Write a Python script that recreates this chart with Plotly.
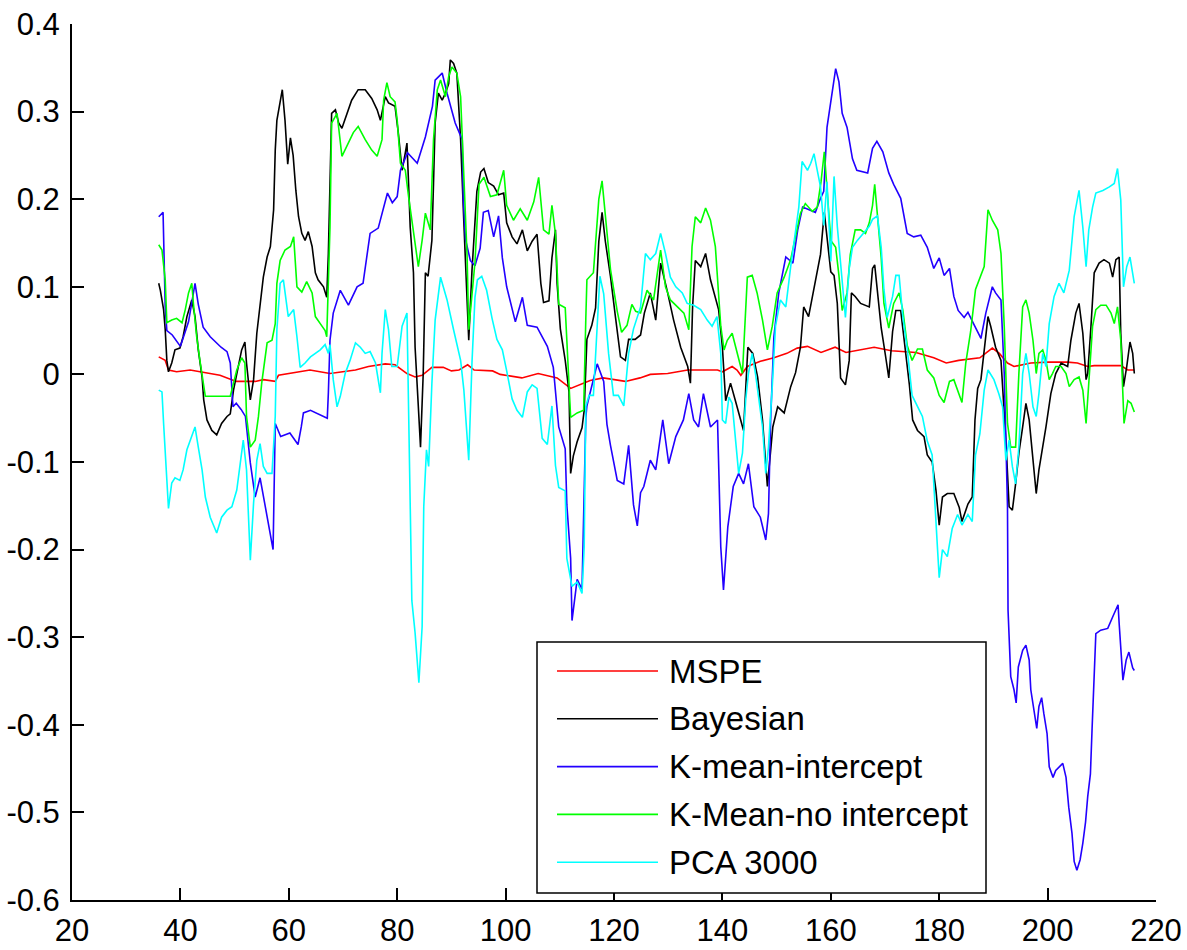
import plotly.graph_objects as go

# ---- data: (x, value) vertices for each series ----
mspe = [(36, 0.02), (37.2, 0.016), (37.8, 0.005), (39.3, 0.003), (41.8, 0.005), (43.6, 0.003),
        (47.3, -0.001), (50.3, -0.008), (53.8, -0.008), (55.3, -0.006), (57.5, -0.008), (58.1, -0.001),
        (62.1, 0.003), (63.9, 0.005), (67.6, 0.001), (70.1, 0.003), (72.3, 0.005), (74.7, 0.009),
        (77.8, 0.012), (79.6, 0.011), (81.8, 0.001), (83.3, -0.003), (84.6, -0.001), (86.4, 0.008),
        (88.5, 0.008), (90, 0.004), (91.4, 0.005), (93, 0.011), (94.2, 0.005), (97.6, 0.004),
        (99, 0.0), (103, -0.004), (106, 0.001), (109.5, -0.004), (112, -0.016), (115.6, -0.007),
        (118, -0.004), (122.1, -0.008), (124.8, -0.004), (126.7, 0.0), (129.9, 0.001), (133.6, 0.005),
        (139.1, 0.005), (140, 0.003), (141.8, 0.009), (142.7, 0.005), (143.4, -0.001), (144.6, 0.009),
        (147, 0.015), (149.5, 0.019), (151.9, 0.024), (153.8, 0.03), (155.7, 0.032), (158.2, 0.025),
        (160.8, 0.031), (162.8, 0.025), (168, 0.031), (171.2, 0.027), (175.7, 0.025), (179, 0.019),
        (181.3, 0.013), (183.6, 0.016), (187.5, 0.019), (189.8, 0.03), (191.1, 0.024), (192.6, 0.013),
        (193.8, 0.009), (196.9, 0.013), (200, 0.014), (203.7, 0.014), (205.5, 0.013), (207.4, 0.009),
        (208.6, 0.01), (213.5, 0.01), (214.8, 0.005), (216, 0.005)]

bayesian = [(36, 0.104), (36.3, 0.096), (36.9, 0.074), (37.2, 0.051), (37.5, 0.016), (37.8, 0.003),
            (38.4, 0.013), (39.0, 0.028), (39.9, 0.03), (40.5, 0.043), (41.2, 0.066), (41.8, 0.077),
            (42.1, 0.085), (42.7, 0.066), (43.3, 0.028), (44.0, -0.003), (44.3, -0.029), (44.9, -0.052),
            (45.8, -0.064), (46.7, -0.069), (47.6, -0.056), (48.6, -0.048), (49.2, -0.045), (49.8, -0.018),
            (50.7, 0.009), (51.3, 0.028), (51.9, 0.037), (52.2, 0.013), (52.9, -0.029), (53.5, -0.006),
            (54.1, 0.047), (54.7, 0.077), (55.3, 0.111), (56.0, 0.134), (56.6, 0.146), (57.2, 0.188),
            (57.5, 0.256), (57.8, 0.29), (58.3, 0.31), (58.8, 0.325), (59.3, 0.29), (59.8, 0.24),
            (60.3, 0.27), (60.8, 0.25), (61.3, 0.21), (61.8, 0.18), (62.4, 0.161), (63.0, 0.153),
            (63.6, 0.163), (64.3, 0.146), (64.9, 0.116), (65.4, 0.108), (66.4, 0.1), (67.0, 0.088),
            (67.3, 0.138), (67.6, 0.218), (67.9, 0.298), (68.6, 0.302), (69.2, 0.287), (69.8, 0.281),
            (70.7, 0.298), (71.6, 0.313), (72.8, 0.325), (74.1, 0.325), (75.3, 0.315), (76.3, 0.302),
            (76.9, 0.29), (77.8, 0.317), (78.4, 0.31), (79.6, 0.306), (80.2, 0.276), (80.9, 0.233),
            (81.5, 0.253), (81.8, 0.264), (82.1, 0.218), (82.4, 0.168), (83.0, 0.116), (83.3, 0.031),
            (83.9, -0.037), (84.3, -0.083), (84.8, 0.001), (85.2, 0.116), (85.7, 0.112), (86.4, 0.153),
            (86.7, 0.218), (87.0, 0.287), (87.6, 0.321), (88.3, 0.313), (88.9, 0.321), (89.5, 0.332),
            (89.8, 0.359), (90.4, 0.355), (91.0, 0.344), (91.7, 0.268), (92.3, 0.173), (92.9, 0.093),
            (93.2, 0.039), (93.8, 0.119), (94.7, 0.209), (95.4, 0.231), (96.0, 0.235), (96.8, 0.219),
            (97.8, 0.215), (98.7, 0.205), (99.65, 0.207), (100.2, 0.173), (101.2, 0.157), (102.1, 0.149),
            (103.1, 0.165), (104.0, 0.141), (104.9, 0.152), (105.8, 0.16), (106.5, 0.104), (107.0, 0.082),
            (108.0, 0.084), (108.55, 0.133), (109.2, 0.165), (109.5, 0.104), (110.1, 0.052), (111.0, 0.016),
            (111.7, -0.02), (112.0, -0.113), (112.5, -0.093), (113.2, -0.077), (114.1, -0.061),
            (114.5, -0.041), (115.0, 0.04), (115.9, 0.056), (116.6, 0.076), (117.2, 0.152), (117.8, 0.185),
            (118.4, 0.152), (119.35, 0.112), (120.3, 0.064), (121.2, 0.02), (122.1, 0.016), (122.7, 0.04),
            (123.9, 0.04), (124.9, 0.045), (125.6, 0.07), (126.7, 0.093), (127.7, 0.062), (128.6, 0.127),
            (129.9, 0.093), (131.0, 0.062), (132.3, 0.031), (133.6, 0.009), (134.1, -0.01), (134.5, 0.077),
            (135.0, 0.13), (136.0, 0.123), (136.9, 0.138), (137.8, 0.108), (139.3, 0.074), (140.0, 0.031),
            (140.6, -0.03), (141.5, -0.01), (142.4, -0.03), (143.4, -0.052), (143.9, -0.064), (144.7, 0.031),
            (145.6, 0.024), (146.5, -0.003), (147.4, -0.052), (148.3, -0.128), (149.3, -0.06),
            (150.2, -0.037), (151.4, -0.044), (152.6, -0.014), (153.5, 0.002), (154.4, 0.031), (155.0, 0.077),
            (155.9, 0.066), (156.9, 0.1), (157.5, 0.12), (158.1, 0.137), (158.8, 0.185), (159.3, 0.157),
            (160.0, 0.117), (160.6, 0.113), (161.2, 0.081), (161.8, -0.004), (162.7, -0.012), (163.4, 0.016),
            (163.8, 0.093), (164.5, 0.089), (165.5, 0.081), (167.1, 0.077), (167.7, 0.121), (168.1, 0.125),
            (168.6, 0.097), (169.3, 0.053), (170.1, 0.021), (170.7, -0.004), (171.4, 0.049), (172.0, 0.073),
            (172.9, 0.073), (173.5, 0.041), (174.5, -0.012), (175.1, -0.052), (176.0, -0.064),
            (177.2, -0.071), (177.8, -0.092), (178.7, -0.1), (179.4, -0.132), (180.0, -0.172),
            (180.6, -0.14), (181.5, -0.136), (182.7, -0.136), (183.7, -0.152), (184.2, -0.168),
            (185.3, -0.148), (186.1, -0.14), (186.6, -0.052), (187.1, -0.016), (187.7, -0.006),
            (188.3, 0.028), (189.0, 0.066), (189.5, 0.055), (190.4, 0.031), (191.4, 0.016), (192.0, -0.037),
            (192.3, -0.075), (192.9, -0.151), (193.5, -0.155), (194.1, -0.125), (194.7, -0.09),
            (195.4, -0.06), (196.0, -0.033), (196.6, -0.052), (197.3, -0.098), (197.9, -0.136),
            (198.4, -0.109), (199.1, -0.083), (199.7, -0.06), (200.6, -0.022), (201.5, 0.001),
            (202.5, 0.013), (203.7, 0.009), (204.3, 0.039), (205.2, 0.07), (205.8, 0.081), (206.5, 0.047),
            (207.1, -0.006), (207.4, 0.001), (208.0, 0.055), (208.6, 0.116), (209.5, 0.127), (210.4, 0.131),
            (211.4, 0.127), (212.0, 0.111), (212.6, 0.131), (213.2, 0.134), (213.5, 0.047), (214.0, -0.014),
            (214.6, 0.009), (215.2, 0.037), (215.7, 0.024), (216.0, 0.001)]

kmean_intercept = [(36, 0.18), (36.8, 0.185), (37.2, 0.077), (37.5, 0.05), (38.5, 0.045), (40.0, 0.032),
                   (41.5, 0.06), (42.7, 0.104), (43.3, 0.08), (44.2, 0.054), (45.5, 0.043), (47.5, 0.031),
                   (48.6, 0.026), (49.2, 0.013), (49.7, -0.037), (50.3, -0.033), (51.2, -0.04),
                   (52.0, -0.048), (52.9, -0.101), (53.8, -0.14), (54.7, -0.118), (56.0, -0.163),
                   (57.1, -0.2), (57.5, -0.056), (58.5, -0.071), (60.2, -0.067), (61.7, -0.08),
                   (62.3, -0.06), (62.7, -0.044), (64.0, -0.041), (67.1, -0.05), (67.3, -0.021),
                   (67.6, 0.039), (68.2, 0.07), (69.5, 0.096), (71.0, 0.079), (72.6, 0.1), (73.7, 0.104),
                   (75.0, 0.161), (76.5, 0.167), (78.2, 0.207), (79.1, 0.196), (80.0, 0.203), (80.6, 0.233),
                   (81.9, 0.253), (83.7, 0.241), (85.2, 0.271), (86.5, 0.306), (87.0, 0.336), (88.3, 0.344),
                   (89.2, 0.321), (90.7, 0.287), (92.0, 0.268), (92.2, 0.2), (92.6, 0.154), (93.5, 0.13),
                   (94.35, 0.124), (95.3, 0.144), (95.9, 0.185), (96.8, 0.187), (97.8, 0.157), (98.7, 0.181),
                   (99.4, 0.133), (100.2, 0.1), (101.8, 0.06), (103.1, 0.088), (104.0, 0.056), (105.8, 0.054),
                   (107.7, 0.032), (108.8, 0.008), (109.8, -0.06), (111.0, -0.085), (111.3, -0.149),
                   (112.0, -0.21), (112.25, -0.281), (113.2, -0.234), (114.1, -0.245), (114.8, -0.049),
                   (115.0, -0.036), (116.9, 0.012), (118.1, -0.008), (118.7, -0.057), (119.35, -0.081),
                   (120.6, -0.121), (121.8, -0.125), (122.7, -0.081), (123.6, -0.149), (124.3, -0.173),
                   (124.9, -0.135), (125.5, -0.128), (126.7, -0.098), (127.7, -0.109), (129.0, -0.052),
                   (130.1, -0.102), (131.4, -0.071), (132.8, -0.052), (133.8, -0.022), (134.7, -0.052),
                   (135.6, -0.06), (136.5, -0.022), (137.8, -0.06), (139.1, -0.052), (139.7, -0.197),
                   (140.2, -0.246), (141.0, -0.174), (142.0, -0.128), (143.0, -0.113), (143.9, -0.125),
                   (144.8, -0.102), (145.8, -0.151), (147.0, -0.163), (148.0, -0.189), (148.5, -0.159),
                   (148.9, -0.052), (149.5, 0.043), (150.4, 0.093), (151.7, 0.134), (153.0, 0.127),
                   (153.9, 0.165), (154.8, 0.191), (155.9, 0.188), (157.15, 0.185), (158.1, 0.201),
                   (158.7, 0.209), (159.3, 0.282), (160.0, 0.314), (160.9, 0.349), (161.5, 0.334),
                   (162.1, 0.298), (163.0, 0.282), (164.0, 0.246), (164.8, 0.233), (166.8, 0.23),
                   (167.7, 0.258), (168.5, 0.266), (169.6, 0.254), (170.7, 0.23), (171.6, 0.217),
                   (172.9, 0.201), (174.1, 0.161), (175.3, 0.157), (176.6, 0.159), (177.8, 0.145),
                   (179.0, 0.121), (180.0, 0.133), (180.9, 0.113), (181.9, 0.121), (182.7, 0.089),
                   (183.5, 0.073), (184.6, 0.065), (185.3, 0.071), (186.4, 0.057), (187.7, 0.041),
                   (188.6, 0.07), (189.8, 0.1), (190.4, 0.093), (191.4, 0.085), (192.0, 0.001),
                   (192.3, -0.075), (192.6, -0.151), (192.7, -0.269), (193.2, -0.345), (193.8, -0.36),
                   (194.2, -0.375), (194.6, -0.334), (195.4, -0.315), (196.0, -0.309), (196.6, -0.326),
                   (196.9, -0.36), (197.5, -0.383), (198.0, -0.404), (198.4, -0.379), (198.9, -0.369),
                   (199.3, -0.387), (199.9, -0.41), (200.3, -0.448), (201.0, -0.46), (201.5, -0.452),
                   (202.8, -0.444), (203.4, -0.46), (203.9, -0.494), (204.5, -0.524), (204.9, -0.556),
                   (205.4, -0.566), (206.0, -0.554), (206.5, -0.535), (207.0, -0.511), (207.4, -0.482),
                   (207.9, -0.456), (208.2, -0.406), (208.6, -0.334), (208.9, -0.296), (209.8, -0.292),
                   (211.1, -0.29), (212.0, -0.277), (213.0, -0.263), (213.2, -0.284), (213.9, -0.349),
                   (214.5, -0.326), (215.0, -0.317), (215.7, -0.335), (216.0, -0.338)]

kmean_no_intercept = [(36, 0.148), (36.6, 0.142), (37.2, 0.108), (37.5, 0.059), (38.4, 0.062), (39.3, 0.064),
                      (40.3, 0.059), (40.9, 0.074), (41.5, 0.093), (42.1, 0.104), (42.4, 0.081), (43.0, 0.043),
                      (43.6, 0.016), (44.2, -0.01), (44.6, -0.025), (46.7, -0.025), (49.2, -0.025),
                      (49.8, -0.01), (50.4, 0.005), (51.3, 0.019), (51.9, 0.013), (52.2, -0.048),
                      (52.9, -0.083), (53.8, -0.075), (54.4, -0.048), (55.0, -0.01), (56.0, 0.036),
                      (56.9, 0.039), (57.5, 0.058), (57.8, 0.104), (58.4, 0.13), (59.3, 0.142), (60.3, 0.146),
                      (60.9, 0.157), (61.5, 0.1), (62.4, 0.094), (63.3, 0.106), (64.3, 0.093), (64.9, 0.066),
                      (65.8, 0.058), (66.7, 0.05), (67.0, 0.043), (67.6, 0.168), (67.9, 0.287), (68.9, 0.298),
                      (69.8, 0.249), (70.7, 0.26), (71.9, 0.276), (72.8, 0.283), (74.1, 0.268), (75.3, 0.256),
                      (76.3, 0.249), (77.2, 0.268), (77.5, 0.313), (78.1, 0.333), (78.7, 0.317), (79.6, 0.311),
                      (80.0, 0.29), (80.6, 0.241), (81.5, 0.233), (82.1, 0.203), (83.0, 0.165), (83.9, 0.123),
                      (84.6, 0.153), (85.2, 0.184), (86.1, 0.165), (86.7, 0.268), (87.4, 0.325), (88.0, 0.336),
                      (88.9, 0.317), (89.5, 0.34), (90.1, 0.351), (91.0, 0.344), (91.7, 0.317), (92.3, 0.229),
                      (92.9, 0.134), (93.2, 0.051), (93.8, 0.089), (94.35, 0.128), (95.1, 0.217), (96.0, 0.225),
                      (97.2, 0.203), (98.4, 0.205), (99.65, 0.233), (100.2, 0.193), (101.45, 0.176),
                      (102.7, 0.189), (104.0, 0.176), (105.2, 0.197), (106.1, 0.225), (107.0, 0.165),
                      (108.0, 0.16), (108.55, 0.193), (109.2, 0.16), (109.8, 0.08), (111.0, 0.076),
                      (111.7, -0.017), (112.0, -0.049), (113.2, -0.044), (114.4, -0.041), (114.8, 0.064),
                      (115.0, 0.108), (116.2, 0.116), (117.2, 0.2), (117.8, 0.221), (118.4, 0.181),
                      (119.35, 0.12), (120.6, 0.072), (121.4, 0.048), (122.4, 0.056), (123.3, 0.08),
                      (124.0, 0.072), (124.9, 0.07), (126.1, 0.096), (127.3, 0.085), (128.6, 0.142),
                      (129.5, 0.1), (130.4, 0.085), (131.7, 0.077), (132.9, 0.07), (133.8, 0.051),
                      (134.4, 0.146), (135.0, 0.18), (136.0, 0.173), (136.9, 0.19), (137.8, 0.176),
                      (138.7, 0.146), (139.7, 0.055), (140.3, 0.028), (140.9, 0.039), (141.8, 0.047),
                      (142.7, 0.024), (143.7, 0.001), (144.6, 0.111), (145.5, 0.113), (146.4, 0.093),
                      (147.4, 0.062), (148.3, 0.028), (149.2, 0.055), (150.1, 0.093), (151.4, 0.111),
                      (152.6, 0.131), (153.5, 0.157), (154.4, 0.184), (155.3, 0.195), (156.6, 0.186),
                      (157.5, 0.191), (158.2, 0.22), (158.8, 0.254), (160.0, 0.153), (160.9, 0.145),
                      (161.5, 0.113), (162.1, 0.073), (163.0, 0.093), (163.6, 0.137), (164.5, 0.165),
                      (165.5, 0.165), (166.4, 0.161), (167.1, 0.173), (167.7, 0.193), (168.1, 0.217),
                      (168.6, 0.181), (169.3, 0.133), (169.8, 0.081), (170.7, 0.053), (171.6, 0.081),
                      (172.6, 0.093), (173.3, 0.073), (174.1, 0.033), (175.0, 0.016), (176.0, 0.029),
                      (176.9, 0.029), (177.8, 0.005), (179.0, -0.004), (180.0, -0.024), (180.9, -0.032),
                      (181.9, -0.008), (182.7, -0.006), (183.7, -0.024), (184.2, -0.032), (184.9, 0.013),
                      (185.8, 0.049), (186.7, 0.097), (187.4, 0.109), (188.3, 0.123), (189.0, 0.188),
                      (189.8, 0.176), (190.8, 0.165), (191.4, 0.138), (192.0, 0.055), (192.6, -0.056),
                      (193.2, -0.083), (194.1, -0.083), (194.7, 0.001), (195.4, 0.077), (196.0, 0.085),
                      (196.6, 0.07), (197.3, 0.039), (197.9, 0.001), (198.4, 0.024), (199.1, 0.028),
                      (199.7, 0.016), (200.3, -0.006), (200.9, 0.001), (201.5, 0.009), (202.5, 0.009),
                      (203.4, 0.001), (204.0, -0.014), (204.9, -0.006), (205.8, -0.003), (206.5, -0.018),
                      (207.1, -0.056), (207.6, -0.006), (208.3, 0.055), (208.9, 0.074), (209.8, 0.079),
                      (210.8, 0.079), (211.7, 0.07), (212.3, 0.058), (212.9, 0.077), (213.5, 0.039),
                      (214.1, -0.056), (214.8, -0.03), (215.4, -0.033), (216.0, -0.043)]

pca_3000 = [(36, -0.018), (36.6, -0.02), (36.9, -0.056), (37.5, -0.121), (37.8, -0.153), (38.4, -0.124),
            (39.0, -0.118), (39.9, -0.121), (40.5, -0.109), (41.2, -0.086), (42.1, -0.071), (42.7, -0.06),
            (43.3, -0.083), (44.0, -0.109), (44.6, -0.14), (45.5, -0.163), (46.7, -0.181), (47.6, -0.163),
            (48.6, -0.155), (49.5, -0.151), (50.4, -0.132), (51.0, -0.105), (51.6, -0.075), (52.2, -0.109),
            (52.9, -0.212), (53.5, -0.147), (54.1, -0.098), (54.7, -0.079), (55.3, -0.105), (56.0, -0.113),
            (56.9, -0.113), (57.5, -0.048), (57.8, 0.051), (58.4, 0.104), (59.0, 0.108), (59.9, 0.066),
            (60.9, 0.074), (61.5, 0.043), (62.1, 0.008), (63.0, 0.013), (64.0, 0.02), (65.8, 0.028),
            (66.7, 0.034), (67.3, 0.024), (67.6, 0.034), (68.2, -0.006), (68.9, -0.037), (69.5, -0.025),
            (70.4, 0.001), (71.3, 0.016), (72.3, 0.036), (73.2, 0.031), (74.1, 0.024), (75.0, 0.026),
            (76.0, 0.013), (76.6, -0.01), (76.9, -0.021), (77.2, 0.024), (77.8, 0.074), (78.4, 0.051),
            (79.0, 0.009), (80.0, 0.009), (80.9, 0.055), (81.8, 0.07), (82.4, -0.163), (82.7, -0.258),
            (83.3, -0.295), (84.0, -0.352), (84.6, -0.288), (84.9, -0.151), (85.4, -0.086), (85.8, -0.105),
            (86.4, -0.01), (87.0, 0.062), (88.0, 0.111), (89.2, 0.085), (90.4, 0.051), (91.7, 0.016),
            (92.3, -0.018), (92.9, -0.075), (93.2, -0.098), (93.8, 0.014), (94.35, 0.088), (94.8, 0.108),
            (95.6, 0.112), (96.5, 0.096), (97.5, 0.064), (98.4, 0.04), (99.4, 0.028), (100.2, 0.004),
            (101.2, -0.028), (102.1, -0.041), (103.1, -0.049), (104.0, -0.02), (104.9, -0.012),
            (105.8, -0.016), (106.75, -0.073), (107.7, -0.08), (108.55, -0.036), (109.2, -0.104),
            (109.8, -0.129), (111.0, -0.133), (111.3, -0.21), (112.25, -0.242), (113.2, -0.237),
            (114.1, -0.25), (114.5, -0.197), (114.8, -0.036), (115.4, -0.024), (116.2, -0.024),
            (117.4, 0.112), (118.1, 0.092), (119.0, 0.024), (119.9, -0.024), (120.8, -0.024),
            (121.8, -0.036), (122.7, 0.024), (123.6, 0.052), (124.9, 0.077), (125.8, 0.138),
            (126.7, 0.131), (127.7, 0.138), (128.6, 0.161), (129.5, 0.138), (130.4, 0.111), (131.4, 0.1),
            (132.6, 0.093), (133.5, 0.081), (134.7, 0.079), (136.0, 0.074), (137.2, 0.062), (138.1, 0.055),
            (139.0, 0.066), (139.7, 0.024), (140.0, -0.052), (140.6, -0.056), (141.2, -0.026),
            (141.8, -0.033), (142.4, -0.075), (143.0, -0.113), (143.7, -0.09), (144.3, -0.029),
            (144.8, 0.001), (145.5, 0.024), (146.1, 0.001), (146.7, -0.026), (147.4, -0.06), (148.0, -0.113),
            (148.5, -0.083), (149.2, -0.014), (149.8, 0.055), (150.7, 0.085), (151.7, 0.077), (152.6, 0.123),
            (153.5, 0.165), (154.1, 0.191), (154.7, 0.243), (155.7, 0.233), (156.3, 0.241), (156.9, 0.252),
            (157.5, 0.233), (158.1, 0.214), (158.7, 0.17), (159.3, 0.22), (160.0, 0.129), (160.6, 0.226),
            (161.2, 0.169), (162.1, 0.105), (162.7, 0.065), (163.4, 0.121), (164.0, 0.145), (164.9, 0.153),
            (166.0, 0.161), (167.1, 0.169), (167.7, 0.177), (168.6, 0.181), (169.3, 0.145), (169.8, 0.097),
            (170.4, 0.065), (171.4, 0.089), (172.0, 0.113), (172.6, 0.113), (173.3, 0.065), (174.1, 0.029),
            (175.0, -0.024), (176.0, -0.036), (176.9, -0.048), (177.8, -0.076), (178.7, -0.092),
            (179.7, -0.2), (180.0, -0.232), (180.6, -0.2), (181.5, -0.208), (182.4, -0.176),
            (183.4, -0.16), (184.2, -0.172), (185.3, -0.16), (186.1, -0.168), (186.7, -0.092),
            (187.5, -0.068), (188.3, -0.018), (189.0, 0.005), (190.1, -0.006), (191.0, -0.022),
            (191.7, -0.037), (192.3, -0.098), (192.9, -0.075), (193.5, -0.105), (194.1, -0.125),
            (194.7, -0.083), (195.4, 0.001), (196.0, 0.024), (196.6, 0.001), (197.3, -0.037),
            (197.9, -0.048), (198.4, -0.022), (199.1, 0.024), (199.7, 0.009), (200.3, 0.058),
            (201.2, 0.089), (202.1, 0.104), (203.0, 0.093), (204.0, 0.119), (204.9, 0.18), (205.8, 0.21),
            (206.5, 0.168), (207.1, 0.123), (207.6, 0.165), (208.3, 0.191), (208.9, 0.207), (210.2, 0.21),
            (211.4, 0.214), (212.3, 0.218), (212.9, 0.235), (213.5, 0.199), (214.0, 0.1), (214.6, 0.123),
            (215.2, 0.134), (216.0, 0.104)]

series_names = ["MSPE", "Bayesian", "K-mean-intercept", "K-Mean-no intercept", "PCA 3000"]
series_colors = ["#ff0000", "#000000", "#2200ff", "#00ff00", "#00ffff"]
series_data = [mspe, bayesian, kmean_intercept, kmean_no_intercept, pca_3000]

x_ticks = [20, 40, 60, 80, 100, 120, 140, 160, 180, 200, 220]
y_ticks = [-0.6, -0.5, -0.4, -0.3, -0.2, -0.1, 0, 0.1, 0.2, 0.3, 0.4]
y_tick_text = ["-0.6", "-0.5", "-0.4", "-0.3", "-0.2", "-0.1", "0", "0.1", "0.2", "0.3", "0.4"]

# ---- figure geometry (pixels) ----
W, H = 1187, 950
ML, MR, MT, MB = 72, 31, 24, 50
PW, PH = W - ML - MR, H - MT - MB
FONT = "Liberation Sans, Arial, sans-serif"


def px_x(p):
    return (p - ML) / PW


def px_y(p):
    return (H - MB - p) / PH


fig = go.Figure()
for name, color, pts in zip(series_names, series_colors, series_data):
    fig.add_trace(go.Scatter(
        x=[p[0] for p in pts], y=[p[1] for p in pts], name=name, mode="lines",
        line=dict(color=color, width=1.6), showlegend=False,
    ))

# boxed legend with long line samples
shapes = [dict(type="rect", xref="paper", yref="paper",
               x0=px_x(537), x1=px_x(986), y0=px_y(893), y1=px_y(642),
               line=dict(color="#000000", width=1.5), fillcolor="#ffffff", layer="above")]
annotations = []
for i, (name, color) in enumerate(zip(series_names, series_colors)):
    yc = px_y(671 + 47.8 * i)
    shapes.append(dict(type="line", xref="paper", yref="paper",
                       x0=px_x(557), x1=px_x(658), y0=yc, y1=yc,
                       line=dict(color=color, width=1.6), layer="above"))
    annotations.append(dict(xref="paper", yref="paper", x=px_x(667), y=yc,
                            xanchor="left", yanchor="middle", text=name, showarrow=False,
                            font=dict(family=FONT, size=33, color="#000000")))

fig.update_layout(
    width=W, height=H,
    margin=dict(l=ML, r=MR, t=MT, b=MB, pad=0),
    paper_bgcolor="#ffffff", plot_bgcolor="#ffffff",
    font=dict(family=FONT, size=31, color="#000000"),
    shapes=shapes, annotations=annotations,
    xaxis=dict(range=[20, 220], tickvals=x_ticks, showgrid=False, zeroline=False,
               showline=True, linecolor="#000000", linewidth=2, automargin=False,
               ticks="inside", ticklen=12, tickwidth=1.5, tickcolor="#000000",
               ticklabelstandoff=2),
    yaxis=dict(range=[-0.6, 0.4], tickvals=y_ticks, ticktext=y_tick_text, showgrid=False,
               zeroline=False, showline=True, linecolor="#000000", linewidth=2, automargin=False,
               ticks="inside", ticklen=12, tickwidth=1.5, tickcolor="#000000",
               ticklabelstandoff=4),
)

fig.write_html("out.html")
